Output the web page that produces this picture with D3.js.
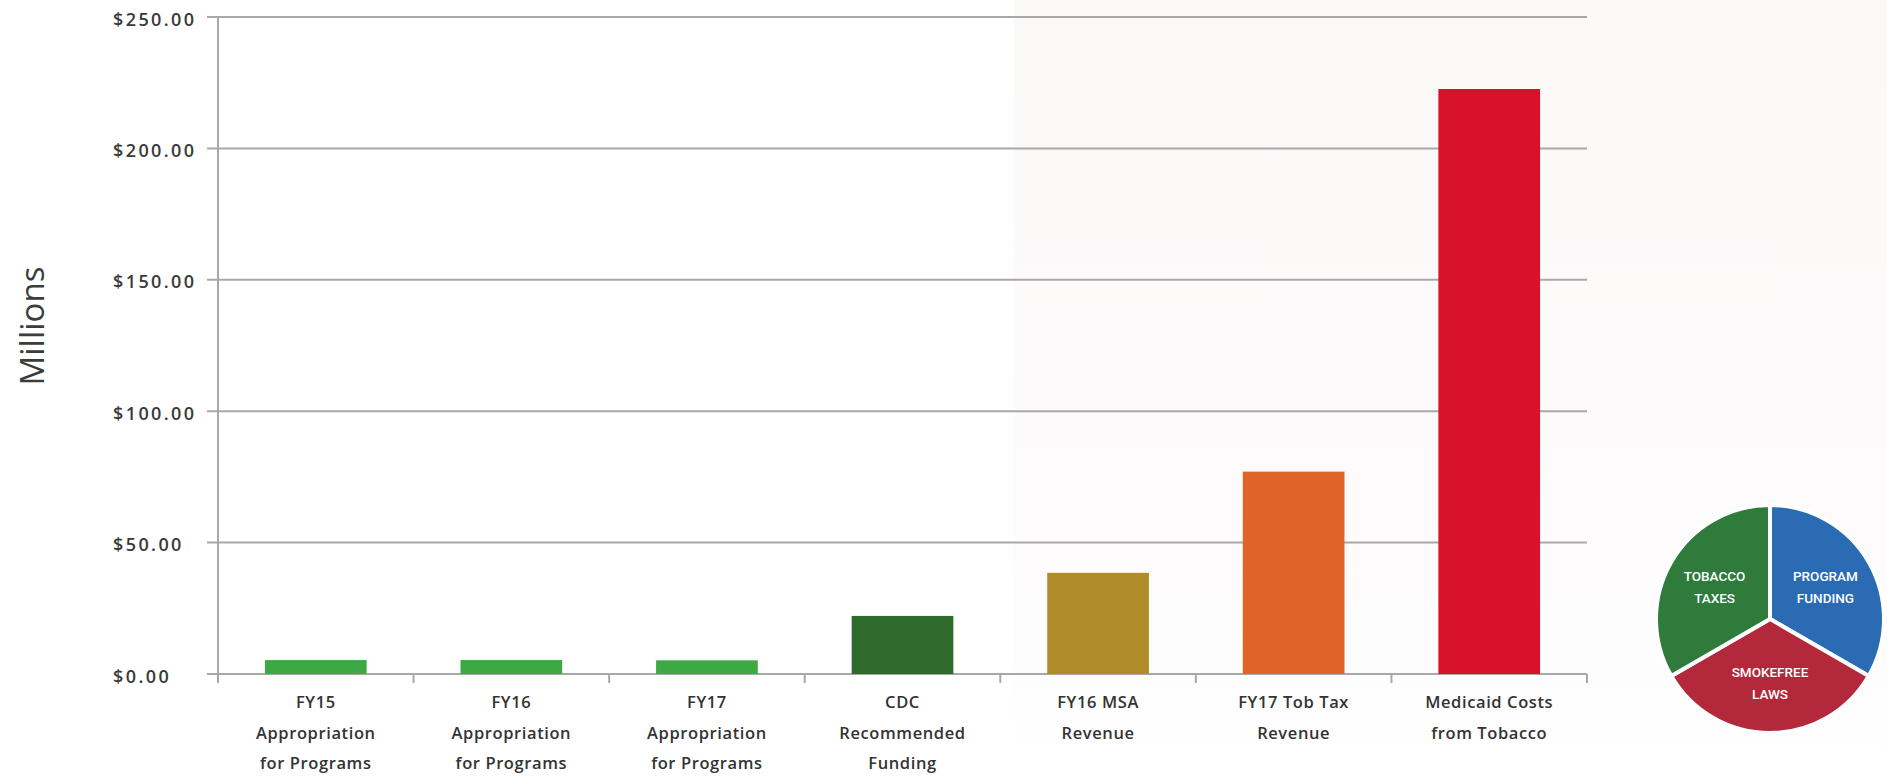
<!DOCTYPE html>
<html>
<head>
<meta charset="utf-8">
<script src="https://cdn.jsdelivr.net/npm/d3@7/dist/d3.min.js"></script>
<style>
  html, body { margin: 0; padding: 0; background: #ffffff; }
  svg { display: block; }
</style>
</head>
<body>
<svg id="chart" width="1887" height="776"></svg>
<script>
// ---- data ----
const categories = [
  ["FY15", "Appropriation", "for Programs"],
  ["FY16", "Appropriation", "for Programs"],
  ["FY17", "Appropriation", "for Programs"],
  ["CDC", "Recommended", "Funding"],
  ["FY16 MSA", "Revenue"],
  ["FY17 Tob Tax", "Revenue"],
  ["Medicaid Costs", "from Tobacco"]
];
const values = [5.3, 5.3, 5.2, 22.1, 38.5, 77.0, 222.6];
const barColors = ["#3ea845", "#3ea845", "#3ea845", "#2d6a2b", "#b08d2a", "#de6527", "#d8122b"];
const yTicks = [0, 50, 100, 150, 200, 250];
const yTitle = "Millions";
const pieLabels = [["PROGRAM", "FUNDING"], ["SMOKEFREE", "LAWS"], ["TOBACCO", "TAXES"]];
const pieValues = [1, 1, 1];
const pieColors = ["#2b6bb3", "#b3283b", "#2f7b3c"];

// ---- layout ----
const W = 1887, H = 776;
const plot = { left: 218, right: 1587, top: 17, bottom: 674 };
const svg = d3.select("#chart");

// subtle scan tint on the right half
const defs = svg.append("defs");
const grad = defs.append("linearGradient").attr("id", "tint").attr("x1", 0).attr("y1", 0).attr("x2", 0).attr("y2", 1);
grad.append("stop").attr("offset", "0%").attr("stop-color", "#fbf8f8");
grad.append("stop").attr("offset", "70%").attr("stop-color", "#fdfbfb");
grad.append("stop").attr("offset", "100%").attr("stop-color", "#ffffff");
svg.append("rect").attr("x", 1014).attr("y", 0).attr("width", W - 1014).attr("height", H).attr("fill", "url(#tint)");

const keys = categories.map(c => c.join(" "));
const x = d3.scaleBand().domain(keys).range([plot.left, plot.right]).paddingInner(0.48).paddingOuter(0.24);
const y = d3.scaleLinear().domain([0, 250]).range([plot.bottom, plot.top]);

// gridlines
svg.append("g").selectAll("line").data(yTicks).join("line")
  .attr("x1", 207).attr("x2", plot.right)
  .attr("y1", d => y(d)).attr("y2", d => y(d))
  .attr("stroke", "#a8a8a8").attr("stroke-width", 2);

// y axis line
svg.append("line").attr("x1", plot.left).attr("x2", plot.left)
  .attr("y1", plot.top).attr("y2", plot.bottom + 9)
  .attr("stroke", "#a8a8a8").attr("stroke-width", 2);

// y tick labels (left aligned as in the source)
const yAxis = d3.axisLeft(y).tickValues(yTicks).tickFormat(d3.format("$,.2f")).tickSize(0);
const yg = svg.append("g").attr("transform", `translate(${plot.left},0)`).call(yAxis);
yg.select(".domain").remove();
yg.selectAll("text")
  .attr("x", 113 - plot.left)
  .attr("dy", "0.45em")
  .attr("text-anchor", "start")
  .style("font-family", "'Open Sans', sans-serif")
  .style("font-size", "18px")
  .style("font-weight", 600)
  .style("letter-spacing", "2.4px")
  .style("fill", "#3a3a3a");

// y title
svg.append("text")
  .attr("transform", "translate(44,326) rotate(-90)")
  .attr("text-anchor", "middle")
  .style("font-family", "'Open Sans', sans-serif")
  .style("font-size", "33px")
  .style("fill", "#3c3c3c")
  .text(yTitle);

// bars
svg.append("g").selectAll("rect").data(values).join("rect")
  .attr("x", (d, i) => x(keys[i]))
  .attr("width", x.bandwidth())
  .attr("y", d => y(d))
  .attr("height", d => y(0) - y(d))
  .attr("fill", (d, i) => barColors[i]);

// x axis baseline and category boundary ticks
const step = x.step();
const boundaries = keys.map(k => x(k) - (step - x.bandwidth()) / 2).concat([plot.right]);
svg.append("g").selectAll("line").data(boundaries).join("line")
  .attr("x1", d => d).attr("x2", d => d)
  .attr("y1", plot.bottom).attr("y2", plot.bottom + 9)
  .attr("stroke", "#a8a8a8").attr("stroke-width", 2);

// category labels
const xAxis = d3.axisBottom(x).tickSize(0).tickFormat("");
const xg = svg.append("g").attr("transform", `translate(0,${plot.bottom})`).call(xAxis);
xg.select(".domain").remove();
xg.selectAll(".tick").each(function(d, i) {
  const t = d3.select(this).append("text")
    .attr("text-anchor", "middle")
    .style("font-family", "'Open Sans', sans-serif")
    .style("font-size", "16.5px")
    .style("font-weight", 600)
    .style("letter-spacing", "0.6px")
    .style("fill", "#333333");
  categories[i].forEach((line, j) => {
    t.append("tspan").attr("x", 0).attr("y", 34 + j * 30.7).text(line);
  });
});

// pie
const cx = 1770, cy = 619, R = 114;
const pie = d3.pie().sort(null).startAngle(0).endAngle(2 * Math.PI);
const arcs = pie(pieValues);
const arc = d3.arc().innerRadius(0).outerRadius(R);
const labelArc = d3.arc().innerRadius(64).outerRadius(64);
const pg = svg.append("g").attr("transform", `translate(${cx},${cy})`);
pg.selectAll("path").data(arcs).join("path")
  .attr("d", arc)
  .attr("fill", (d, i) => pieColors[i])
  .attr("stroke", "#ffffff")
  .attr("stroke-width", 4)
  .attr("stroke-linejoin", "round");
pg.selectAll("text.pl").data(arcs).join("text")
  .attr("class", "pl")
  .attr("transform", d => `translate(${labelArc.centroid(d)})`)
  .attr("text-anchor", "middle")
  .style("font-family", "Roboto, sans-serif")
  .style("font-size", "13.5px")
  .style("font-weight", 500)
  .style("fill", "#ffffff")
  .each(function(d, i) {
    const t = d3.select(this);
    pieLabels[i].forEach((line, j) => {
      t.append("tspan").attr("x", 0).attr("y", (j - 0.5) * 21.5 + 5).text(line);
    });
  });
</script>
</body>
</html>
